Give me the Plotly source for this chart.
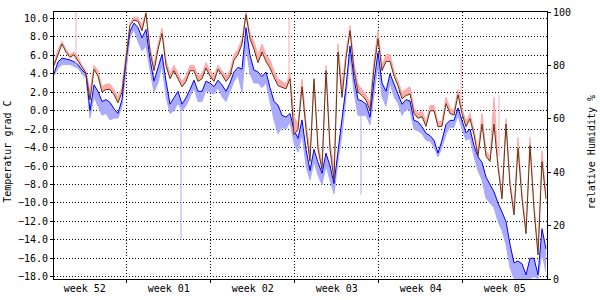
import pandas as pd
import plotly.graph_objects as go

# ---------------- data ----------------
start_time = "2007-12-24 22:30"
step = "8h"

temperature = [4.0, 5.3, 5.7, 5.6, 5.5, 5.3, 5.0, 4.4, 4.0, 0.0,
               2.8, 2.1, 1.0, 1.2, 0.9, 0.2, -0.3, 1.2, 5.5, 8.6,
               9.5, 9.0, 7.9, 8.8, 5.6, 3.2, 4.6, 6.1, 3.2, 0.7,
               1.4, 2.1, 0.7, 1.4, 2.3, 3.3, 2.1, 2.1, 3.2, 3.0,
               2.6, 3.3, 2.8, 2.1, 3.0, 4.2, 4.7, 4.5, 9.0, 6.0,
               4.4, 4.2, 3.7, 4.2, 2.5, 1.0, 0.6, -0.5, -0.7, -0.3,
               -2.1, -3.0, -1.0, -4.2, -6.5, -4.2, -5.6, -6.8, -4.6, -6.0,
               -7.9, -4.5, -1.2, 2.6, 7.0, 3.5, 1.2, 1.05, 0.7, -0.7,
               3.2, 6.3, 3.0, 2.1, 4.0, 2.8, 1.8, 0.7, 1.2, 1.05,
               -1.05, -1.2, -1.75, -2.45, -2.7, -3.2, -4.6, -3.2, -1.5, -1.05,
               -1.05, 0.3, -1.0, -2.4, -2.0, -3.8, -5.0, -5.6, -7.2, -8.0,
               -8.8, -10.0, -11.0, -12.0, -14.5, -16.5, -16.3, -16.6, -17.8, -16.0,
               -16.0, -17.8, -12.8, -15.0]

temperature_min = [3.8, 4.6, 5.0, 5.0, 5.0, 4.8, 4.6, 4.0, 3.5, -0.8,
                   1.5, 0.5, -0.5, -0.3, -1.0, -0.8, -0.8, 0.5, 4.5, 8.0,
                   8.8, 7.5, 6.5, 7.0, 4.5, 2.0, 3.0, 5.0, 1.5, -0.3,
                   0.0, 0.8, 0.0, 0.5, 1.5, 2.5, 1.0, 1.0, 2.2, 2.0,
                   1.8, 2.5, 1.5, 1.0, 2.0, 3.2, 3.8, 2.0, 7.0, 4.0,
                   3.0, 3.0, 2.5, 3.0, 1.0, -1.0, -2.5, -1.8, -2.0, -1.2,
                   -3.5, -4.5, -2.5, -6.0, -7.5, -5.5, -7.0, -8.0, -6.0, -7.5,
                   -9.0, -5.5, -2.5, 1.5, 6.0, 2.0, -0.5, -0.5, -0.5, -1.5,
                   2.0, 5.0, 1.5, 0.5, 3.0, 1.5, 0.8, -0.5, 0.2, 0.0,
                   -2.0, -2.2, -2.5, -3.2, -3.3, -4.0, -5.0, -4.0, -2.5, -1.8,
                   -1.8, -0.5, -2.0, -3.2, -3.0, -5.0, -6.5, -7.5, -9.5, -10.0,
                   -10.5, -12.0, -13.0, -14.5, -17.0, -18.2, -18.2, -18.2, -18.2, -18.2,
                   -18.0, -18.2, -15.5, -17.5]

humidity = [80, 84, 88, 85, 83, 84, 81.5, 79, 77, 67,
            78.5, 76, 70, 71, 71, 69, 66, 70, 82, 95,
            97, 96.5, 93, 99.5, 85, 78, 86, 92, 80, 75,
            78, 75, 72, 74, 78, 78, 74, 75, 79, 76,
            74, 78.5, 76.5, 74, 76, 82, 84, 88, 99, 90,
            86, 81, 85, 81.5, 79, 75.5, 72.4, 71.8, 71.2, 75,
            54, 56, 72, 56, 44, 75, 48.6, 41, 78, 48.6,
            37, 85, 68, 82.7, 93, 78, 70, 68.7, 67, 63,
            79, 90, 78, 81.5, 81.5, 76, 72.4, 67.5, 68.7, 69.3,
            62, 60.2, 60.8, 57.2, 63, 63, 57, 57.2, 65.7, 62,
            61.4, 69, 62, 57, 60, 54, 46, 58, 46, 44,
            58, 42, 30, 58, 35, 24, 49, 30, 17, 50,
            26, 9, 44, 30]

humidity_max = [81, 86, 89, 86, 84, 85, 83, 80, 78, 70,
                80, 78, 72, 73, 73, 71, 68, 72, 84, 96,
                98, 98, 95, 100, 87, 80, 88, 94, 82, 77,
                80, 77, 74, 76, 80, 80, 76, 77, 81, 78,
                76, 80, 78, 76, 78, 84, 86, 90, 100, 92,
                89, 84, 88, 84, 82, 78, 75, 74, 73, 77,
                61, 58, 75, 59, 47, 74, 51, 43, 80, 51,
                42, 88, 72, 85, 95, 81, 73, 71, 69, 66,
                82, 93, 80, 84, 84, 78, 74, 70, 71, 72,
                64, 62, 63, 59, 65, 65, 59, 59, 68, 64,
                63, 71, 64, 59, 62, 56, 48, 62, 48, 46,
                68, 44, 32, 60, 37, 26, 53, 32, 19, 53,
                28, 11, 48, 32]

# short single-sample spikes of the min/max ranges
tspike_times = ["2008-01-04 12:30", "2008-01-19 12:30"]
tspike_low = [-14.0, -9.1]
tspike_high = [0.5, 1.0]

hspike_times = ["2007-12-26 18:30", "2008-01-13 12:30", "2008-01-27 20:30", "2008-01-31 00:30"]
hspike_low = [80, 76, 65, 46]
hspike_high = [100, 98, 83, 69]

week_label_times = ["2007-12-27 12:00", "2008-01-03 12:00", "2008-01-10 12:00",
                    "2008-01-17 12:00", "2008-01-24 12:00", "2008-01-31 12:00"]
week_labels = ["week 52", "week 01", "week 02", "week 03", "week 04", "week 05"]
week_starts = ["2007-12-31", "2008-01-07", "2008-01-14", "2008-01-21", "2008-01-28"]

x_range = ["2007-12-24 22:30", "2008-02-04 00:30"]
temp_range = [-18.25, 10.7]
hum_range = [0, 100]

# ---------------- figure ----------------
times = pd.date_range(start_time, periods=len(temperature), freq=step)

LIGHT_BLUE = "#aaaaff"
PINK = "#ffaaaa"
BLUE = "#0000ff"
BROWN = "#663311"
FONT = "DejaVu Sans Mono"

fig = go.Figure()

# temperature min range (light blue)
fig.add_trace(go.Scatter(x=times, y=temperature_min, mode="lines",
                         line=dict(color=LIGHT_BLUE, width=1), yaxis="y"))
fig.add_trace(go.Scatter(x=times, y=temperature, mode="lines",
                         line=dict(color=LIGHT_BLUE, width=0), fill="tonexty",
                         fillcolor=LIGHT_BLUE, yaxis="y"))

# humidity max range (pink)
fig.add_trace(go.Scatter(x=times, y=humidity, mode="lines",
                         line=dict(color=PINK, width=0), yaxis="y2"))
fig.add_trace(go.Scatter(x=times, y=humidity_max, mode="lines",
                         line=dict(color=PINK, width=1), fill="tonexty",
                         fillcolor=PINK, yaxis="y2"))

# spikes
sx, sy = [], []
for t, lo, hi in zip(tspike_times, tspike_low, tspike_high):
    sx += [t, t, None]
    sy += [lo, hi, None]
fig.add_trace(go.Scatter(x=sx, y=sy, mode="lines",
                         line=dict(color=LIGHT_BLUE, width=1), yaxis="y"))
hx, hy = [], []
for t, lo, hi in zip(hspike_times, hspike_low, hspike_high):
    hx += [t, t, None]
    hy += [lo, hi, None]
fig.add_trace(go.Scatter(x=hx, y=hy, mode="lines",
                         line=dict(color=PINK, width=1), yaxis="y2"))

# main lines
fig.add_trace(go.Scatter(x=times, y=temperature, mode="lines",
                         line=dict(color=BLUE, width=1), yaxis="y"))
fig.add_trace(go.Scatter(x=times, y=humidity, mode="lines",
                         line=dict(color=BROWN, width=1), yaxis="y2"))

fig.update_layout(
    width=600, height=300,
    margin=dict(l=54, r=53, t=6, b=20, pad=0),
    paper_bgcolor="white", plot_bgcolor="white",
    showlegend=False,
    font=dict(family=FONT, size=10, color="black"),
    xaxis=dict(
        type="date", range=x_range,
        tickmode="array", tickvals=week_label_times, ticktext=week_labels,
        ticks="", showgrid=False, zeroline=False,
        showline=True, linecolor="black", linewidth=1, mirror=True,
        tickfont=dict(family=FONT, size=10, color="black"),
        minor=dict(tickmode="array", tickvals=week_starts, ticks="outside",
                   ticklen=3, tickcolor="black", showgrid=True,
                   gridcolor="black", gridwidth=1, griddash="1px,2px"),
    ),
    yaxis=dict(
        range=temp_range, tickmode="linear", tick0=0, dtick=2,
        tickformat=".1f", ticks="outside", ticklen=3, tickcolor="black",
        showgrid=True, gridcolor="black", gridwidth=1, griddash="1px,2px",
        zeroline=False, showline=True, linecolor="black", linewidth=1,
        tickfont=dict(family=FONT, size=10, color="black"),
    ),
    yaxis2=dict(
        range=hum_range, overlaying="y", side="right",
        tickmode="linear", tick0=0, dtick=20,
        ticks="outside", ticklen=3, tickcolor="black",
        showgrid=False, zeroline=False, showline=True,
        linecolor="black", linewidth=1,
        tickfont=dict(family=FONT, size=10, color="black"),
    ),
    annotations=[
        dict(text="Temperatur grad C", xref="paper", yref="paper",
             x=(7.5 - 54) / 493, y=(280 - 150) / 274, xanchor="center",
             yanchor="middle", textangle=-90, showarrow=False,
             font=dict(family=FONT, size=10, color="black")),
        dict(text="relative Humidity %", xref="paper", yref="paper",
             x=(591 - 54) / 493, y=(280 - 150) / 274, xanchor="center",
             yanchor="middle", textangle=-90, showarrow=False,
             font=dict(family=FONT, size=10, color="black")),
    ],
)

fig.write_html("out.html")
